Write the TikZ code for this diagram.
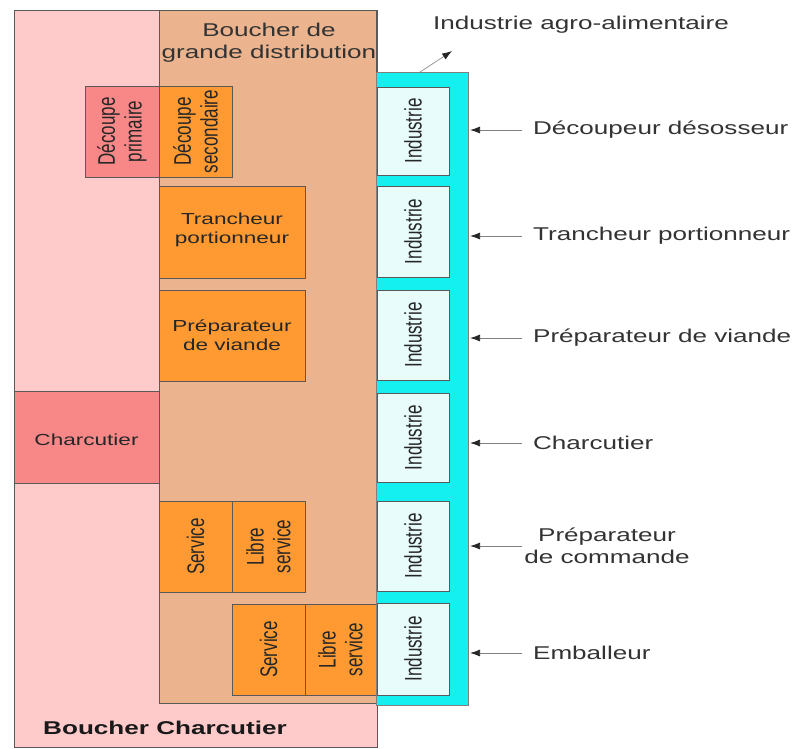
\documentclass[tikz,border=0pt]{standalone}
\usepackage{fontspec}
\setmainfont{Liberation Sans}
\usetikzlibrary{arrows.meta}

\definecolor{rosepale}{RGB}{255,202,202}
\definecolor{rosefonce}{RGB}{248,136,136}
\definecolor{beige}{RGB}{235,180,142}
\definecolor{orange1}{RGB}{255,154,51}
\definecolor{cyan1}{RGB}{20,240,240}
\definecolor{blanc1}{RGB}{232,252,252}

\tikzset{
  bloc/.style={draw=black!65, line width=0.6pt},
  texte/.style={inner sep=2pt, text=black!85, align=center, font=\fontsize{16}{19}\selectfont},
  vertical/.style={texte, rotate=90, font=\fontsize{17}{19}\selectfont},
  legende/.style={inner sep=2pt, text=black!80, align=center, font=\fontsize{18.5}{22}\selectfont},
  fleche/.style={-{Latex[length=10pt,width=7pt,color=black!85]}, draw=black!50, line width=0.8pt},
}

\begin{document}
\begin{tikzpicture}[x=0.70922pt, y=-1pt, xscale=1.41, every node/.append style={transform shape}]
  \useasboundingbox (0,0) rectangle (796,748);
  % Boucher charcutier et boucher de grande distribution
  \draw[bloc, fill=rosepale] (14,10) rectangle (377,747);
  \draw[bloc, fill=beige] (159,10) rectangle (376,703);
  \node[legende] (bgd) at (269,43) {Boucher de\\grande distribution};
  \node[legende, font=\fontsize{18.5}{22}\selectfont\bfseries, text=black!90] (bc) at (165,728) {Boucher Charcutier};
  % Metiers a gauche
  \draw[bloc, fill=rosefonce] (85,86) rectangle (159,177);
  \node[vertical] (dp) at (122,131.5) {Découpe\\primaire};
  \draw[bloc, fill=orange1] (159,86) rectangle (232,177);
  \node[vertical] (ds) at (195.5,131.5) {Découpe\\secondaire};
  \draw[bloc, fill=orange1] (159,186) rectangle (305,278);
  \node[texte] (tp) at (232,230) {Trancheur\\portionneur};
  \draw[bloc, fill=orange1] (159,290) rectangle (305,381);
  \node[texte] (pv) at (232,335) {Préparateur\\de viande};
  \draw[bloc, fill=rosefonce] (14,391) rectangle (159,483);
  \node[texte] (ch) at (86.5,440) {Charcutier};
  \draw[bloc, fill=orange1] (159,501) rectangle (232,592);
  \node[vertical] (s1) at (195.5,546.5) {Service};
  \draw[bloc, fill=orange1] (232,501) rectangle (305,592);
  \node[vertical] (ls1) at (268.5,546.5) {Libre\\service};
  \draw[bloc, fill=orange1] (232,604) rectangle (305,695);
  \node[vertical] (s2) at (268.5,649.5) {Service};
  \draw[bloc, fill=orange1] (305,604) rectangle (376,695);
  \node[vertical] (ls2) at (340.5,649.5) {Libre\\service};
  % Industrie agro-alimentaire
  \draw[draw=black!50, line width=0.6pt, fill=cyan1] (376,72) rectangle (468,705);
  \foreach \ya/\yb [count=\i] in {87/175, 186/277, 290/380, 393/482, 501/591, 603/695}{
    \draw[bloc, fill=blanc1] (377,\ya) rectangle (449,\yb);
    \node[vertical] (ind\i) at (413,{(\ya+\yb)/2}) {Industrie};
  }
  \node[legende] (agro) at (581,25) {Industrie agro-alimentaire};
  \coordinate (ia) at (420,72);
  \coordinate (ib) at (452,51);
  \draw[fleche, draw=black!40] (ia) -- (ib);
  % Metiers a droite
  \coordinate (c) at (470,0);
  \coordinate (d) at (522,0);
  \node[legende, anchor=west] (l1) at (530,130) {Découpeur désosseur};
  \node[legende, anchor=west] (l2) at (530,236) {Trancheur portionneur};
  \node[legende, anchor=west] (l3) at (530,338) {Préparateur de viande};
  \node[legende, anchor=west] (l4) at (530,443) {Charcutier};
  \node[legende] (l5) at (607,546) {Préparateur\\de commande};
  \node[legende, anchor=west] (l6) at (530,653) {Emballeur};
  \foreach \l in {l1,l2,l3,l4,l5,l6}
    \draw[fleche] (\l.west -| d) -- (\l.west -| c);
\end{tikzpicture}
\end{document}
